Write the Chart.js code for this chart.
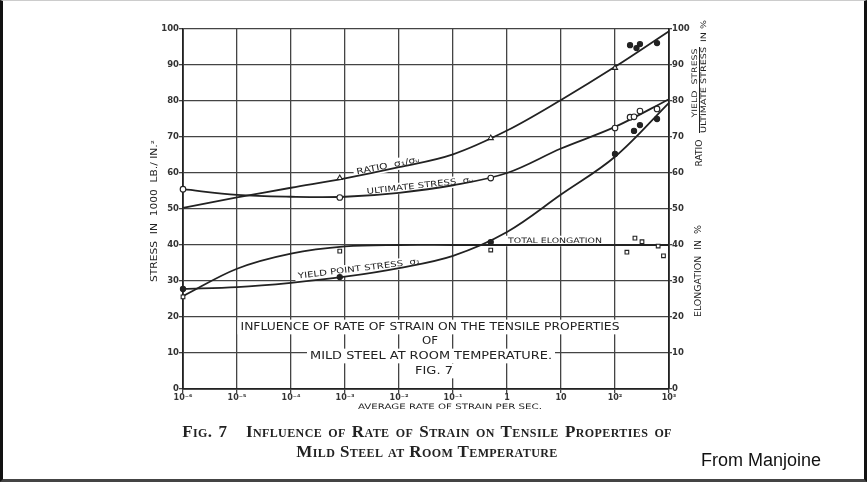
<!DOCTYPE html>
<html>
<head>
<meta charset="utf-8">
<script src="https://cdn.jsdelivr.net/npm/chart.js@4"></script>
<style>
  body { margin: 0; background: #fff; }
  #wrap { position: relative; width: 867px; height: 482px; overflow: hidden; }
  #frame { position: absolute; left: 0; top: 0; width: 867px; height: 482px; box-sizing: border-box;
    border-left: 3px solid #111; border-right: 3px solid #111; border-top: 1px solid #ccc; border-bottom: 3px solid #444; pointer-events: none; }
  .caption { position: absolute; left: 0; width: 854px; text-align: center; font-family: "Liberation Serif", serif;
    font-weight: bold; font-variant: small-caps; font-size: 17px; letter-spacing: 0.4px; color: #222; line-height: 20px; }
  .caption span { word-spacing: 1.5px; }
  #source { position: absolute; left: 701px; top: 450px; font-family: "Liberation Sans", Arial, sans-serif; font-size: 18px; color: #111; }
</style>
</head>
<body>
<div id="wrap">
  <canvas id="chart" width="867" height="482"></canvas>
  <div class="caption" style="top:422px"><span>Fig. 7&nbsp;&nbsp; Influence of Rate of Strain on Tensile Properties of</span><br>Mild Steel at Room Temperature</div>
  <div id="source">From Manjoine</div>
  <div id="frame"></div>
</div>
<script>
// strain rates (per sec) at each decade line
var rates = [1e-6, 1e-5, 1e-4, 1e-3, 1e-2, 1e-1, 1, 10, 100, 1000];
var rateLabels = ['10⁻⁶', '10⁻⁵', '10⁻⁴', '10⁻³', '10⁻²', '10⁻¹', '1', '10', '10²', '10³'];
var stressTicks = [0, 10, 20, 30, 40, 50, 60, 70, 80, 90, 100];

// faired curves, read at each decade
var ratioCurve = [50.3, 53.2, 55.9, 58.5, 61.6, 65.2, 71.8, 80.3, 89.5, 99.4];
var ultimateCurve = [55.5, 53.9, 53.4, 53.4, 54.5, 56.6, 60, 66.8, 72.8, 80.5];
var yieldCurve = [27.8, 28.3, 29.5, 31.2, 33.6, 37, 43.6, 54, 64.5, 79.5];
var elongationCurve = [25.8, 33.4, 37.6, 39.6, 40, 40, 40, 40, 40, 40];

// test points
var ratioTriX = [8e-4, 0.5, 100];
var ratioTriY = [58.6, 69.7, 89.2];
var ratioDotX = [190, 250, 290, 600];
var ratioDotY = [95.5, 94.7, 95.8, 96.1];
var ultimateX = [1e-6, 8e-4, 0.5, 100, 190, 225, 290, 600];
var ultimateY = [55.5, 53.2, 58.6, 72.5, 75.5, 75.6, 77.2, 77.8];
var yieldX = [1e-6, 8e-4, 0.5, 100, 225, 290, 600];
var yieldY = [27.8, 31.1, 40.8, 65.3, 71.7, 73.3, 75];
var elongX = [1e-6, 8e-4, 0.5, 166, 234, 316, 630, 790];
var elongY = [25.6, 38.3, 38.6, 38, 41.9, 40.9, 39.7, 37];

var ink = '#222';

function pts(xs, ys) {
  return xs.map(function (x, i) { return { x: x, y: ys[i] }; });
}

function curve(ys) {
  return {
    data: pts(rates, ys),
    showLine: true,
    borderColor: ink,
    borderWidth: 1.8,
    pointRadius: 0,
    tension: 0.35,
    order: 2,
  };
}

function marks(xs, ys, style, filled, r) {
  return {
    data: pts(xs, ys),
    showLine: false,
    pointStyle: style,
    pointRadius: r || 2.8,
    pointBorderColor: ink,
    pointBorderWidth: 1.1,
    pointBackgroundColor: filled ? ink : '#fff',
    order: 1,
  };
}

// draws text stretched to a given width, optional white patch behind it
function fitText(ctx, txt, cx, cy, w, size, angle, patch) {
  ctx.save();
  ctx.translate(cx, cy);
  ctx.rotate(angle || 0);
  ctx.font = size + 'px "DejaVu Sans", sans-serif';
  var m = ctx.measureText(txt).width;
  if (patch) {
    ctx.fillStyle = '#fff';
    ctx.fillRect(-w / 2 - 3, -size * 0.7, w + 6, size * 1.4);
  }
  ctx.scale(w / m, 1);
  ctx.fillStyle = ink;
  ctx.textAlign = 'center';
  ctx.textBaseline = 'middle';
  ctx.fillText(txt, 0, 0);
  ctx.restore();
}

var annotate = {
  id: 'annotate',
  beforeDatasetsDraw: function (chart) {
    var ctx = chart.ctx;
    var up = -Math.PI / 2;
    // inner title
    fitText(ctx, 'INFLUENCE OF RATE OF STRAIN ON THE TENSILE PROPERTIES', 430, 327, 379, 10.5, 0, true);
    fitText(ctx, 'OF', 430, 341, 16, 10.5, 0, true);
    fitText(ctx, 'MILD STEEL AT ROOM TEMPERATURE.', 431, 356, 242, 10.5, 0, true);
    fitText(ctx, 'FIG. 7', 434, 371, 38, 10.5, 0, true);
    // curve labels
    fitText(ctx, 'RATIO  σ₁/σᵤ', 388, 166, 64, 8.5, -0.203, true);
    fitText(ctx, 'ULTIMATE STRESS  σᵤ', 420, 186, 107, 8, -0.113, true);
    fitText(ctx, 'YIELD POINT STRESS  σ₁', 359, 269, 123, 8, -0.122, true);
    fitText(ctx, 'TOTAL ELONGATION', 555, 241, 94, 7.5, 0, true);
    // axis titles
    fitText(ctx, 'STRESS  IN  1000  LB./ IN.²', 155, 211, 142, 8, up);
    fitText(ctx, 'AVERAGE RATE OF STRAIN PER SEC.', 450, 407, 184, 7.5, 0);
    fitText(ctx, 'RATIO', 700, 153, 27, 8, up);
    fitText(ctx, 'YIELD  STRESS', 695, 83, 69, 7.5, up);
    fitText(ctx, 'ULTIMATE STRESS', 704, 90, 86, 7.5, up);
    fitText(ctx, 'IN %', 704, 31, 22, 7.5, up);
    fitText(ctx, 'ELONGATION  IN  %', 699, 271, 92, 8, up);
    ctx.save();
    ctx.strokeStyle = ink;
    ctx.lineWidth = 1;
    ctx.beginPath();
    ctx.moveTo(699.5, 47);
    ctx.lineTo(699.5, 133);
    ctx.stroke();
    ctx.restore();
  },
};

var tickFont = { family: '"DejaVu Sans", sans-serif', size: 8.5, weight: 'bold' };

new Chart(document.getElementById('chart'), {
  type: 'scatter',
  data: {
    datasets: [
      curve(ratioCurve),
      curve(ultimateCurve),
      curve(yieldCurve),
      curve(elongationCurve),
      marks(ratioTriX, ratioTriY, 'triangle', false, 3),
      marks(ratioDotX, ratioDotY, 'circle', true, 2.6),
      marks(ultimateX, ultimateY, 'circle', false),
      marks(yieldX, yieldY, 'circle', true, 2.6),
      marks(elongX, elongY, 'rect', false, 2.6),
    ],
  },
  options: {
    responsive: false,
    animation: false,
    clip: false,
    layout: { padding: { top: 29, left: 0, right: 0, bottom: 0 } },
    plugins: { legend: { display: false }, tooltip: { enabled: false } },
    scales: {
      x: {
        type: 'logarithmic',
        min: 1e-6,
        max: 1000,
        afterBuildTicks: function (scale) {
          scale.ticks = rates.map(function (v) { return { value: v }; });
        },
        afterFit: function (scale) { scale.height = 93; },
        grid: { color: '#444', lineWidth: 1.3, tickLength: 4 },
        border: { color: ink, width: 1.8 },
        ticks: {
          font: { family: '"DejaVu Sans", sans-serif', size: 8, weight: 'bold' },
          color: '#333',
          padding: 0,
          maxRotation: 0,
          autoSkip: false,
          callback: function (v) {
            return rateLabels[Math.round(Math.log10(v)) + 6];
          },
        },
      },
      y: {
        position: 'left',
        min: 0,
        max: 100,
        afterBuildTicks: function (scale) {
          scale.ticks = stressTicks.map(function (v) { return { value: v }; });
        },
        afterFit: function (scale) { scale.width = 183; },
        grid: { color: '#444', lineWidth: 1.3, tickLength: 4 },
        border: { color: ink, width: 1.8 },
        ticks: { font: tickFont, color: '#333', padding: 0 },
      },
      y2: {
        position: 'right',
        min: 0,
        max: 100,
        afterBuildTicks: function (scale) {
          scale.ticks = stressTicks.map(function (v) { return { value: v }; });
        },
        afterFit: function (scale) { scale.width = 198; },
        grid: { drawOnChartArea: false, color: '#444', lineWidth: 1.3, tickLength: 3 },
        border: { color: ink, width: 1.8 },
        ticks: { font: tickFont, color: '#333', padding: 0 },
      },
    },
  },
  plugins: [annotate],
});
</script>
</body>
</html>
